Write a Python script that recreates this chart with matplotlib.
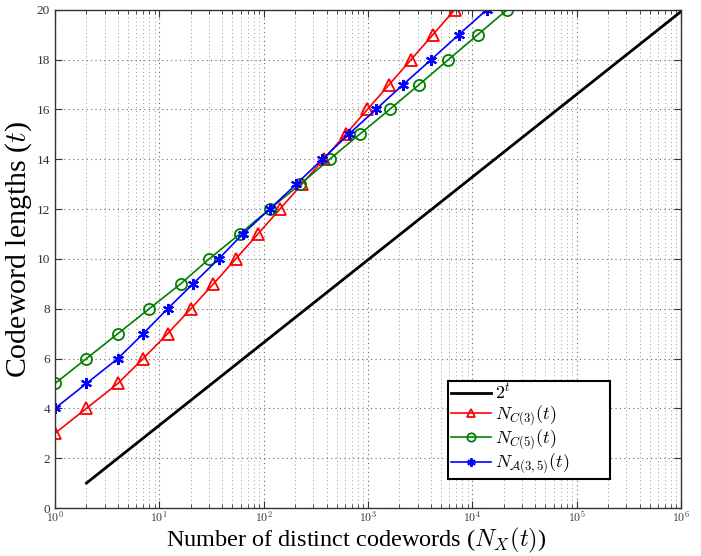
import matplotlib
matplotlib.use("Agg")
import matplotlib.pyplot as plt
from matplotlib.ticker import LogLocator, NullFormatter

# Data
t_pow = list(range(1, 21))
x_pow = [2, 4, 8, 16, 32, 64, 128, 256, 512, 1024, 2048, 4096, 8192, 16384,
         32768, 65536, 131072, 262144, 524288, 1048576]

t_c3 = list(range(3, 21))
x_c3 = [1, 2, 4, 7, 12, 20, 33, 54, 88, 143, 232, 376, 609, 986, 1596, 2583, 4180, 6764]

t_c5 = list(range(5, 21))
x_c5 = [1, 2, 4, 8, 16, 30, 59, 114, 224, 428, 829, 1607, 3090, 5890, 11250, 21480]

t_a35 = list(range(4, 21))
x_a35 = [1, 2, 4, 7, 12, 21, 37, 63, 114, 205, 364, 651, 1188, 2170, 4026, 7400, 13700]

x_ticks = [1, 10, 100, 1000, 10000, 100000, 1000000]
y_ticks = [0, 2, 4, 6, 8, 10, 12, 14, 16, 18, 20]

plt.rcParams['font.family'] = ['Liberation Serif', 'DejaVu Serif']
plt.rcParams['mathtext.fontset'] = 'cm'

fig = plt.figure(figsize=(7.01, 5.56), dpi=100)
ax = fig.add_axes([0.0785, 0.0863, 0.893, 0.896])

ax.semilogx(x_pow, t_pow, color='black', lw=2.0, label=r'$2^t$')
ax.semilogx(x_c3, t_c3, color='red', lw=1.2, marker='^', ms=9, mfc='none',
            mec='red', mew=1.3, label=r'$N_{C(3)}(t)$')
ax.semilogx(x_c5, t_c5, color='green', lw=1.2, marker='o', ms=8, mfc='none',
            mec='green', mew=1.3, label=r'$N_{C(5)}(t)$')
ax.semilogx(x_a35, t_a35, color='blue', lw=1.2, marker=(6, 2, 0), ms=8,
            mec='blue', mew=1.5, label=r'$N_{\mathcal{A}(3,5)}(t)$')

ax.set_xlim(1, 1e6)
ax.set_ylim(0, 20)
ax.set_xticks(x_ticks)
ax.set_xticklabels([r'$10^{%d}$' % i for i in range(len(x_ticks))])
ax.xaxis.set_minor_locator(LogLocator(base=10, subs=range(2, 10), numticks=100))
ax.xaxis.set_minor_formatter(NullFormatter())
ax.set_yticks(y_ticks)

ax.grid(True, which='major', linestyle=(0, (1, 3)), color='#666666', lw=0.8)
ax.grid(True, which='minor', axis='x', linestyle=(0, (1, 3)), color='#999999', lw=0.7)

ax.tick_params(which='both', direction='in', top=True, right=True, labelsize=9.5,
               colors='#333333', labelcolor='#333333')
ax.tick_params(which='major', length=5)
ax.tick_params(which='minor', length=3)
ax.tick_params(axis='x', which='major', pad=1.5, labelsize=8.5)
for s in ax.spines.values():
    s.set_color('#333333')
    s.set_linewidth(1.0)

ax.set_xlabel(r'Number of distinct codewords ($N_X(t)$)', fontsize=17.5)
ax.xaxis.set_label_coords(0.481, -0.036)
ax.set_ylabel(r'Codeword lengths ($t$)', fontsize=21.5)
ax.yaxis.set_label_coords(-0.034, 0.52)

leg = ax.legend(loc='lower left', bbox_to_anchor=(0.628, 0.058, 0.259, 0.155),
                mode='expand', fontsize=13, fancybox=False, framealpha=1,
                edgecolor='black', borderpad=0.15, labelspacing=0.0,
                handlelength=2.2, handletextpad=0.25, borderaxespad=0)
leg.get_frame().set_linewidth(1.5)
for h in leg.legend_handles:
    try:
        h.set_markersize(6)
    except Exception:
        pass

fig.savefig('out.png', dpi=100)
